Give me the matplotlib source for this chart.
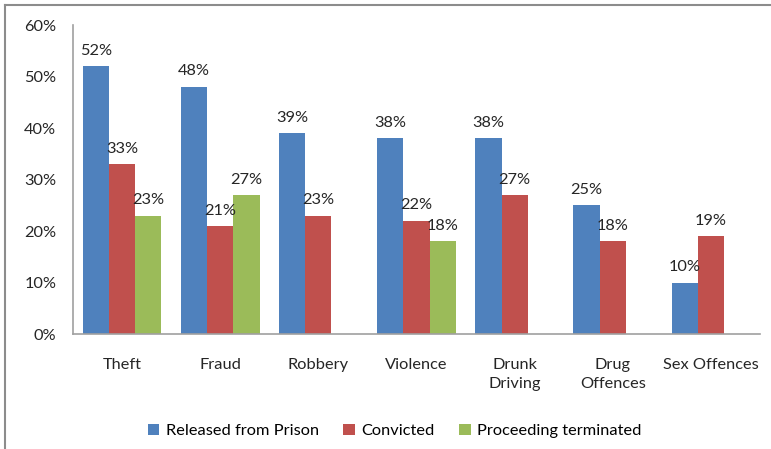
import numpy as np
import matplotlib
matplotlib.use("Agg")
import matplotlib.pyplot as plt
from matplotlib.ticker import PercentFormatter

plt.rcParams["font.family"] = ["Lato", "DejaVu Sans"]

categories = ["Theft", "Fraud", "Robbery", "Violence", "Drunk\nDriving", "Drug\nOffences", "Sex Offences"]
released = [52, 48, 39, 38, 38, 25, 10]
convicted = [33, 21, 23, 22, 27, 18, 19]
terminated = [23, 27, None, 18, None, None, None]

series = [
    ("Released from Prison", released, "#4F81BD"),
    ("Convicted", convicted, "#C0504D"),
    ("Proceeding terminated", terminated, "#9BBB59"),
]

fs = 11.8
txt = "#262626"

fig = plt.figure(figsize=(7.71, 4.49), dpi=100)
ax = fig.add_axes([0.0947, 0.2561, 0.891, 0.6882])

x = np.arange(len(categories))
w = 0.267
for i, (name, vals, col) in enumerate(series):
    xs = [xi + (i - 1) * w for xi, v in zip(x, vals) if v is not None]
    vs = [v for v in vals if v is not None]
    bars = ax.bar(xs, vs, width=w, color=col, label=name)
    for b, v in zip(bars, vs):
        ax.annotate(f"{v}%", (b.get_x() + b.get_width() / 2, v), xytext=(0, 6),
                    textcoords="offset points", ha="center", va="bottom",
                    fontsize=fs, color=txt)

ax.set_xlim(-0.5, len(categories) - 0.5)
ax.set_ylim(0, 60)
ax.set_yticks(range(0, 61, 10))
ax.yaxis.set_major_formatter(PercentFormatter(decimals=0))
ax.set_xticks(x)
ax.set_xticklabels(categories, fontsize=fs, color=txt, va="top", linespacing=1.5)
ax.tick_params(axis="y", labelsize=fs, labelcolor=txt, length=0, pad=12)
ax.tick_params(axis="x", length=0, pad=17)
for s in ["top", "right"]:
    ax.spines[s].set_visible(False)
for s in ["left", "bottom"]:
    ax.spines[s].set_color("#A0A0A0")
    ax.spines[s].set_linewidth(1.2)

fig.legend(loc="center", bbox_to_anchor=(0.512, 0.04), ncol=3, frameon=False,
           fontsize=fs, handlelength=0.7, handleheight=0.7, columnspacing=1.5,
           handletextpad=0.4)

# chart border (top and left only, the rest is cropped)
fig.add_artist(plt.Line2D([5 / 771, 1], [1 - 5 / 449, 1 - 5 / 449], color="#8C8C8C", lw=1.5))
fig.add_artist(plt.Line2D([5 / 771, 5 / 771], [0, 1 - 5 / 449], color="#8C8C8C", lw=1.5))

fig.savefig("out.png", dpi=100)
